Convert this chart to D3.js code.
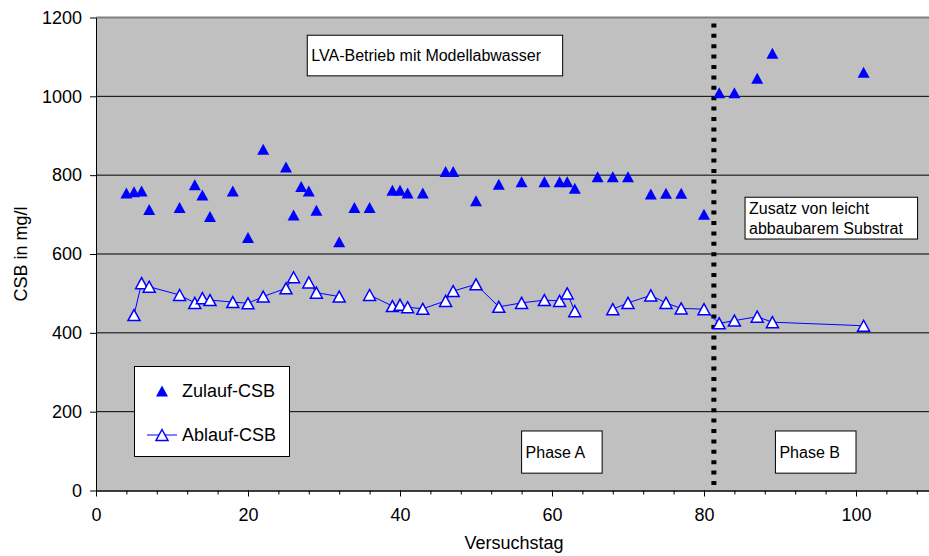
<!DOCTYPE html>
<html>
<head>
<meta charset="utf-8">
<script src="https://cdn.jsdelivr.net/npm/d3@7"></script>
<style>
  body { margin: 0; background: #fff; }
  text { font-family: "Liberation Sans", Arial, sans-serif; }
</style>
</head>
<body>
<svg id="chart"></svg>
<script>
// Versuchstag (alle Messtage)
const tage = [4, 5, 6, 7, 11, 13, 14, 15, 18, 20, 22, 25, 26, 27, 28, 29, 32, 34, 36,
  39, 40, 41, 43, 46, 47, 50, 53, 56, 59, 61, 62, 63, 66, 68, 70, 73, 75, 77, 80,
  82, 84, 87, 89, 101];
// Zulauf-CSB in mg/l
const zulauf = [755, 758, 760, 713, 718, 776, 750, 695, 760, 642, 866, 821, 699, 771, 760, 711, 631, 718, 718,
  762, 762, 755, 755, 809, 809, 735, 777, 783, 783, 783, 783, 767, 796, 796, 796, 752, 754, 754, 701,
  1009, 1009, 1046, 1109, 1061];
// Ablauf-CSB in mg/l (null = kein Messwert)
const ablauf = [null, 445, 526, 517, 496, 476, 488, 483, 478, 475, 492, 513, 541, null, 528, 502, 492, null, 496,
  468, 471, 465, 461, 481, 506, 523, 466, 476, 483, 481, 500, 455, null, 460, 476, 495, 476, 462, 460,
  424, 431, 441, 427, 418];
const yTicks = [0, 200, 400, 600, 800, 1000, 1200];
const xTicks = [0, 20, 40, 60, 80, 100];
const phaseGrenze = 81.3;

const W = 929, H = 556;
const svg = d3.select("#chart").attr("width", W).attr("height", H);

const x = d3.scaleLinear().domain([0, 110]).range([96, 932]);
const y = d3.scaleLinear().domain([0, 1200]).range([490.5, 17.5]);

// plot area
svg.append("rect")
  .attr("x", x(0)).attr("y", y(1200))
  .attr("width", x(110) - x(0)).attr("height", y(0) - y(1200))
  .attr("fill", "#c0c0c0");
svg.append("line")
  .attr("x1", x(0)).attr("x2", x(110))
  .attr("y1", y(1200)).attr("y2", y(1200))
  .attr("stroke", "#808080").attr("stroke-width", 2);

// gridlines
svg.append("g").selectAll("line")
  .data(yTicks.filter(d => d > 0 && d < 1200))
  .enter().append("line")
  .attr("x1", x(0)).attr("x2", x(110))
  .attr("y1", d => y(d)).attr("y2", d => y(d))
  .attr("stroke", "#000").attr("stroke-width", 1);

// axes
const yAxis = svg.append("g")
  .attr("transform", "translate(" + x(0) + ",0)")
  .call(d3.axisLeft(y).tickValues(yTicks).tickFormat(d3.format("d"))
    .tickSize(6).tickSizeOuter(0).tickPadding(8));

const xAxisMinor = svg.append("g")
  .attr("transform", "translate(0," + y(0) + ")")
  .call(d3.axisBottom(x).tickValues(d3.range(0, 110, 4)).tickSize(4).tickSizeOuter(0).tickFormat(""));

const xAxis = svg.append("g")
  .attr("transform", "translate(0," + y(0) + ")")
  .call(d3.axisBottom(x).tickValues(xTicks).tickFormat(d3.format("d"))
    .tickSize(6).tickSizeOuter(0).tickPadding(12));

[yAxis, xAxis, xAxisMinor].forEach(a => {
  a.select(".domain").attr("stroke", "#000");
  a.selectAll(".tick line").attr("stroke", "#000");
  a.selectAll("text").style("font-size", "18px").attr("fill", "#000");
});

svg.append("text")
  .attr("x", (x(0) + x(110)) / 2).attr("y", 549)
  .attr("text-anchor", "middle")
  .style("font-size", "18px")
  .text("Versuchstag");

svg.append("text")
  .attr("transform", "translate(27," + ((y(0) + y(1200)) / 2) + ") rotate(-90)")
  .attr("text-anchor", "middle")
  .style("font-size", "18px")
  .text("CSB in mg/l");

// phase boundary
svg.append("line")
  .attr("x1", x(phaseGrenze)).attr("x2", x(phaseGrenze))
  .attr("y1", y(1185)).attr("y2", y(0))
  .attr("stroke", "#000").attr("stroke-width", 5)
  .attr("stroke-dasharray", "4,6.4");

// text boxes
function textBox(x0, x1, y0, y1, lines) {
  svg.append("rect")
    .attr("x", x(x0)).attr("y", y(y0))
    .attr("width", x(x1) - x(x0)).attr("height", y(y1) - y(y0))
    .attr("fill", "#fff").attr("stroke", "#000").attr("stroke-width", 1);
  const cy = (y(y0) + y(y1)) / 2;
  lines.forEach((l, i) => {
    svg.append("text")
      .attr("x", x(x0) + 4)
      .attr("y", cy + (i - (lines.length - 1) / 2) * 20)
      .attr("dy", "0.35em")
      .style("font-size", "16px")
      .text(l);
  });
}
textBox(27.8, 61.4, 1155, 1052, ["LVA-Betrieb mit Modellabwasser"]);
textBox(56.0, 66.6, 151, 44, ["Phase A"]);
textBox(89.4, 100, 151, 44, ["Phase B"]);
textBox(85.4, 108.1, 744, 638, ["Zusatz von leicht", "abbaubarem Substrat"]);

const tri = "M0,-5.5L6,5.5L-6,5.5Z";

// Ablauf line
const pts = tage.map((t, i) => ({ t: t, z: zulauf[i], a: ablauf[i] }));
svg.append("path")
  .datum(pts)
  .attr("fill", "none").attr("stroke", "#0000ff").attr("stroke-width", 1)
  .attr("d", d3.line().defined(d => d.a !== null).x(d => x(d.t)).y(d => y(d.a)));

svg.append("g").selectAll("path")
  .data(pts.filter(d => d.a !== null))
  .enter().append("path")
  .attr("d", tri)
  .attr("transform", d => "translate(" + x(d.t) + "," + y(d.a) + ")")
  .attr("fill", "#fff").attr("stroke", "#0000ff").attr("stroke-width", 1.5);

svg.append("g").selectAll("path")
  .data(pts.filter(d => d.z !== null))
  .enter().append("path")
  .attr("d", tri)
  .attr("transform", d => "translate(" + x(d.t) + "," + y(d.z) + ")")
  .attr("fill", "#0000ff");

// legend
const lg = svg.append("g");
lg.append("rect")
  .attr("x", 134.5).attr("y", 366.5).attr("width", 155).attr("height", 90)
  .attr("fill", "#fff").attr("stroke", "#000").attr("stroke-width", 1);
lg.append("path").attr("d", tri).attr("transform", "translate(162,391)").attr("fill", "#0000ff");
lg.append("line").attr("x1", 147).attr("x2", 177).attr("y1", 435).attr("y2", 435)
  .attr("stroke", "#0000ff").attr("stroke-width", 1);
lg.append("path").attr("d", tri).attr("transform", "translate(162,435)")
  .attr("fill", "#fff").attr("stroke", "#0000ff").attr("stroke-width", 1.5);
lg.append("text").attr("x", 182).attr("y", 391).attr("dy", "0.35em")
  .style("font-size", "18px").text("Zulauf-CSB");
lg.append("text").attr("x", 182).attr("y", 435).attr("dy", "0.35em")
  .style("font-size", "18px").text("Ablauf-CSB");
</script>
</body>
</html>
